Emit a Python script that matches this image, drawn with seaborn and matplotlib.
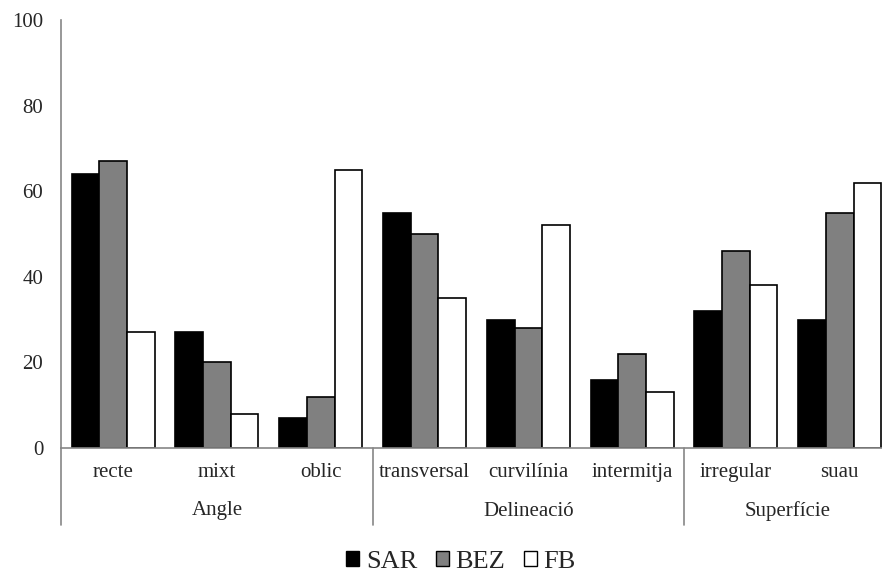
import numpy as np
import pandas as pd
import matplotlib
matplotlib.use('Agg')
import matplotlib.pyplot as plt
import seaborn as sns
from matplotlib.patches import Patch
from matplotlib.lines import Line2D

sns.set_theme(style='white')
plt.rcParams['font.family'] = ['Liberation Serif', 'DejaVu Serif']

# data
categories = ['recte', 'mixt', 'oblic', 'transversal', 'curvilínia', 'intermitja', 'irregular', 'suau']
groups = ['Angle', 'Delineació', 'Superfície']
group_sizes = [3, 3, 2]
series = ['SAR', 'BEZ', 'FB']
sar = [64, 27, 7, 55, 30, 16, 32, 30]
bez = [67, 20, 12, 50, 28, 22, 46, 55]
fb = [27, 8, 65, 35, 52, 13, 38, 62]
colors = ['#000000', '#808080', '#ffffff']

df = pd.DataFrame({'categoria': categories * 3,
                   'serie': np.repeat(series, len(categories)),
                   'valor': sar + bez + fb})

fig = plt.figure(figsize=(8.82, 5.74), dpi=100)
ax = fig.add_axes([61.3 / 882, 1 - 448 / 574, (891.6 - 61.3) / 882, (448 - 20) / 574])

sns.barplot(x='categoria', y='valor', hue='serie', data=df, ax=ax,
            palette=colors, edgecolor='black', linewidth=1.2, width=0.8,
            legend=False, errorbar=None)

ax.set_xlim(-0.5, len(categories) - 0.5)
ax.set_ylim(0, 100)
ax.set_yticks(range(0, 101, 20))
ax.set(xlabel='', ylabel='')
ax.tick_params(axis='y', length=0, pad=13, labelsize=15)
ax.tick_params(axis='x', length=0, pad=11, labelsize=15)

for s in ['top', 'right']:
    ax.spines[s].set_visible(False)
for s in ['left', 'bottom']:
    ax.spines[s].set_color('#868686')
    ax.spines[s].set_linewidth(1.2)

# group labels and separators under the axis
ax_h = 448 - 20
sep_y = -(525 - 448) / ax_h
start = 0
for g, n in zip(groups, group_sizes):
    centre = start + (n - 1) / 2
    ax.text(centre, -(511 - 448) / ax_h, g, transform=ax.get_xaxis_transform(),
            ha='center', va='center', fontsize=15)
    start += n
bounds = [-0.5] + list(np.cumsum(group_sizes) - 0.5)
for b in bounds:
    ax.add_line(Line2D([b, b], [0, sep_y], transform=ax.get_xaxis_transform(),
                       color='#868686', lw=1.2, clip_on=False))

handles = [Patch(facecolor=c, edgecolor='black', linewidth=1.0) for c in colors]
fig.legend(handles, series, loc='center', bbox_to_anchor=(461 / 882, 1 - 562 / 574),
           ncol=3, frameon=False, fontsize=19, handlelength=0.5, handleheight=0.5,
           handletextpad=0.25, columnspacing=0.7, borderpad=0.1)

fig.savefig('out.png', dpi=100)
